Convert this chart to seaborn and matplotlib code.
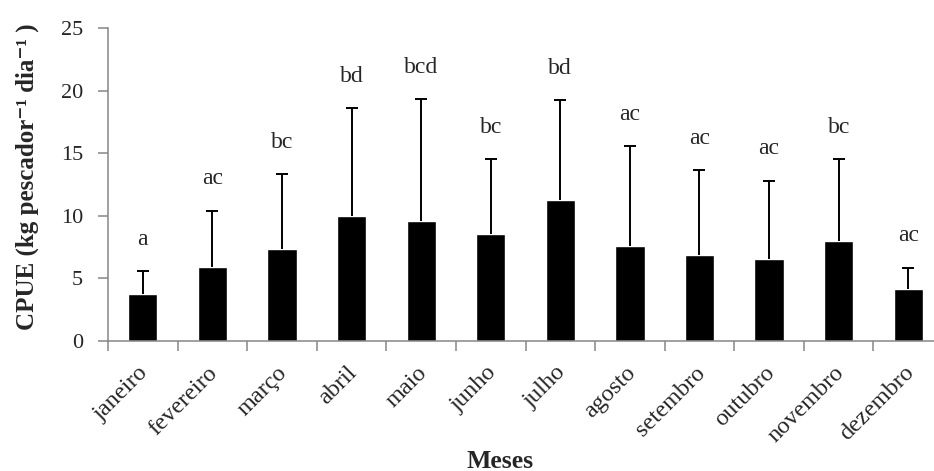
import matplotlib
matplotlib.use("Agg")
import matplotlib.pyplot as plt
import matplotlib.transforms as mtransforms
import seaborn as sns
import numpy as np
import pandas as pd

meses = ["janeiro", "fevereiro", "março", "abril", "maio", "junho",
         "julho", "agosto", "setembro", "outubro", "novembro", "dezembro"]
cpue_media = [3.79, 5.92, 7.34, 10.03, 9.63, 8.59, 11.26, 7.60, 6.86, 6.56, 8.00, 4.14]
cpue_dp = [1.81, 4.51, 5.97, 8.56, 9.68, 5.95, 7.97, 7.95, 6.80, 6.24, 6.54, 1.73]
letras = ["a", "ac", "bc", "bd", "bcd", "bc", "bd", "ac", "ac", "ac", "bc", "ac"]

df = pd.DataFrame({"mes": meses, "cpue": cpue_media, "dp": cpue_dp, "letra": letras})

sns.set_style("ticks")
plt.rcParams["font.family"] = ["Liberation Serif", "DejaVu Serif"]

fig = plt.figure(figsize=(9.34, 4.71), dpi=100)
ax = fig.add_axes([0.1156, 0.276, 0.8844, 0.664])

sns.barplot(data=df, x="mes", y="cpue", color="black", saturation=1,
            width=0.42, errorbar=None, ax=ax)
x = np.arange(len(df))
eb = ax.errorbar(x, df["cpue"], yerr=[np.zeros(len(df)), df["dp"]], fmt="none",
                 ecolor="black", elinewidth=1.4, capsize=4, capthick=1.4)
eb[1][0].set_visible(False)  # hide lower caps

for xi, top, lab in zip(x, df["cpue"] + df["dp"], df["letra"]):
    ax.annotate(lab, (xi, top), xytext=(0, 23), textcoords="offset points",
                ha="center", va="center", fontsize=17)

ax.set_ylim(0, 25)
ax.set_yticks([0, 5, 10, 15, 20, 25])
ax.set_xlim(-0.5, 11.37)
ax.set_xticks(x)
ax.set_xticklabels(meses, rotation=45, ha="right", rotation_mode="anchor",
                   fontsize=17.5)
ax.tick_params(axis="x", which="major", length=0, pad=16)
shift = mtransforms.ScaledTranslation(-5 / 100, 1 / 100, fig.dpi_scale_trans)
for lbl in ax.get_xticklabels():
    lbl.set_transform(lbl.get_transform() + shift)
ax.set_xticks(list(np.arange(-0.5, 11.5, 1.0)), minor=True)
ax.tick_params(axis="x", which="minor", length=7, width=1.1, color="#868686")
ax.tick_params(axis="y", length=7, width=1.1, color="#868686", labelsize=16, pad=11)

for s in ["top", "right"]:
    ax.spines[s].set_visible(False)
for s in ["left", "bottom"]:
    ax.spines[s].set_color("#868686")
    ax.spines[s].set_linewidth(1.1)

ax.set_xlabel("Meses", fontsize=18.5, fontweight="bold")
ax.xaxis.set_label_coords(0.4746, -0.347)
ax.xaxis.label.set_va("top")
ax.set_ylabel("CPUE (kg pescador\u207b\u00b9 dia\u207b\u00b9 )", fontsize=18,
              fontweight="bold")
ax.yaxis.set_label_coords(-0.084, 0.527)

fig.savefig("out.png", dpi=100)
